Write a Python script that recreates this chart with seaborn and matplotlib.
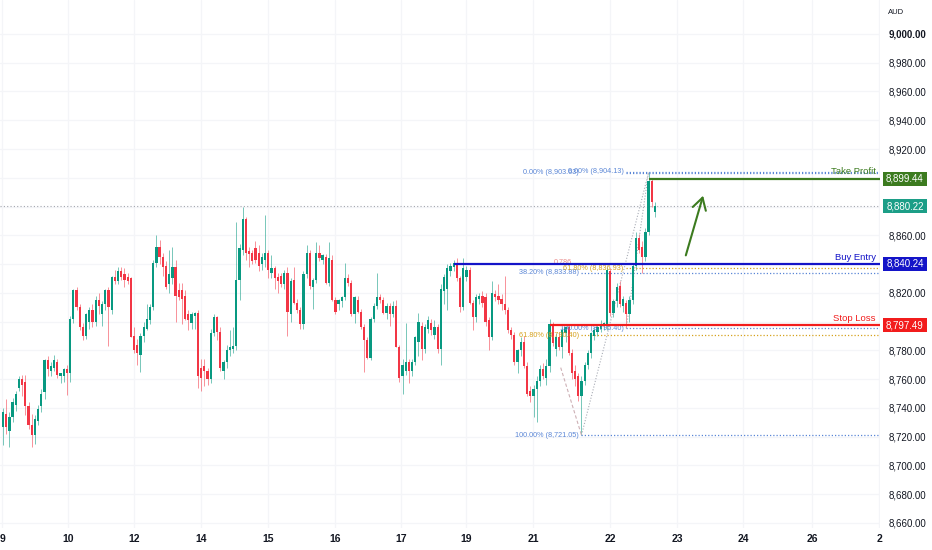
import matplotlib
matplotlib.use("Agg")
import matplotlib.pyplot as plt
from matplotlib import transforms
from matplotlib.patches import Rectangle
import pandas as pd
import seaborn as sns

# hourly candles
opens = [
    8727, 8736, 8724, 8734, 8742, 8754, 8760, 8758, 8741, 8728,
    8721, 8731, 8741, 8751, 8773, 8766, 8768, 8772, 8762, 8762,
    8767, 8764, 8802, 8822, 8810, 8796, 8790, 8800, 8808, 8800,
    8815, 8805, 8812, 8822, 8808, 8831, 8828, 8835, 8833, 8831,
    8830, 8790, 8784, 8777, 8790, 8795, 8801, 8810, 8841, 8852,
    8845, 8839, 8826, 8830, 8838, 8822, 8822, 8818, 8805, 8799,
    8804, 8806, 8768, 8769, 8766, 8760, 8792, 8803, 8793, 8766,
    8772, 8780, 8781, 8783, 8829, 8850, 8871, 8849, 8848, 8851,
    8848, 8840, 8843, 8848, 8834, 8837, 8831, 8832, 8826, 8834,
    8805, 8829, 8813, 8808, 8798, 8833, 8848, 8824, 8829, 8848,
    8843, 8845, 8827, 8843, 8815, 8812, 8814, 8817, 8830, 8827,
    8805, 8815, 8807, 8796, 8787, 8775, 8802, 8811, 8817, 8815,
    8806, 8811, 8805, 8811, 8782, 8762, 8766, 8772, 8766, 8772,
    8786, 8797, 8781, 8795, 8799, 8791, 8796, 8781, 8821, 8823,
    8835, 8838, 8840, 8830, 8810, 8831, 8836, 8813, 8803, 8816,
    8818, 8817, 8801, 8789, 8819, 8818, 8816, 8812, 8808, 8794,
    8791, 8772, 8780, 8786, 8769, 8752, 8748, 8753, 8759, 8767,
    8761, 8769, 8798, 8781, 8789, 8782, 8792, 8796, 8778, 8766,
    8762, 8748, 8759, 8770, 8778, 8790, 8793, 8795, 8797, 8797,
    8835, 8806, 8814, 8825, 8811, 8813, 8805, 8815, 8839, 8858,
    8852, 8845, 8862, 8898, 8876,
]
highs = [
    8740, 8746, 8737, 8747, 8752, 8762, 8763, 8763, 8744, 8736,
    8735, 8742, 8753, 8774, 8776, 8772, 8777, 8774, 8764, 8768,
    8770, 8804, 8823, 8824, 8812, 8799, 8806, 8810, 8812, 8818,
    8820, 8814, 8823, 8824, 8832, 8836, 8838, 8838, 8837, 8834,
    8831, 8796, 8788, 8792, 8800, 8812, 8812, 8843, 8860, 8857,
    8848, 8842, 8850, 8852, 8843, 8827, 8827, 8822, 8808, 8807,
    8807, 8808, 8774, 8774, 8768, 8795, 8805, 8804, 8796, 8773,
    8784, 8794, 8796, 8869, 8854, 8880, 8873, 8852, 8850, 8856,
    8853, 8848, 8874, 8850, 8846, 8839, 8834, 8834, 8836, 8838,
    8830, 8838, 8816, 8810, 8835, 8853, 8850, 8830, 8855, 8853,
    8847, 8847, 8855, 8846, 8817, 8816, 8818, 8841, 8833, 8829,
    8818, 8818, 8809, 8798, 8789, 8803, 8813, 8834, 8819, 8817,
    8813, 8813, 8814, 8815, 8784, 8774, 8799, 8774, 8774, 8790,
    8806, 8800, 8798, 8804, 8802, 8801, 8798, 8826, 8833, 8840,
    8841, 8843, 8844, 8832, 8844, 8839, 8838, 8815, 8819, 8820,
    8821, 8820, 8803, 8828, 8822, 8826, 8819, 8832, 8810, 8796,
    8793, 8781, 8789, 8790, 8772, 8755, 8756, 8762, 8770, 8771,
    8774, 8802, 8800, 8792, 8793, 8796, 8797, 8798, 8781, 8770,
    8764, 8762, 8772, 8780, 8793, 8796, 8798, 8801, 8800, 8838,
    8837, 8816, 8827, 8828, 8818, 8815, 8818, 8840, 8862, 8861,
    8856, 8865, 8904.13, 8899, 8883,
]
lows = [
    8714, 8722, 8713, 8730, 8738, 8752, 8748, 8735, 8725, 8713,
    8715, 8728, 8737, 8746, 8762, 8762, 8766, 8761, 8757, 8758,
    8749, 8758, 8799, 8808, 8794, 8787, 8788, 8795, 8796, 8797,
    8805, 8797, 8808, 8783, 8805, 8826, 8826, 8829, 8824, 8826,
    8789, 8778, 8770, 8765, 8786, 8794, 8798, 8808, 8838, 8840,
    8832, 8823, 8820, 8826, 8800, 8815, 8798, 8801, 8794, 8795,
    8795, 8754, 8752, 8755, 8756, 8757, 8790, 8787, 8766, 8760,
    8768, 8776, 8778, 8780, 8815, 8846, 8843, 8838, 8840, 8841,
    8835, 8836, 8838, 8830, 8830, 8823, 8820, 8824, 8823, 8790,
    8800, 8812, 8806, 8795, 8795, 8830, 8823, 8809, 8827, 8842,
    8840, 8826, 8825, 8814, 8805, 8808, 8810, 8815, 8825, 8804,
    8799, 8806, 8795, 8765, 8774, 8773, 8800, 8809, 8813, 8805,
    8802, 8797, 8803, 8782, 8758, 8750, 8763, 8757, 8762, 8770,
    8776, 8773, 8778, 8792, 8791, 8788, 8778, 8770, 8812, 8808,
    8832, 8835, 8828, 8807, 8808, 8828, 8812, 8794, 8800, 8812,
    8810, 8797, 8780, 8787, 8814, 8812, 8808, 8805, 8792, 8788,
    8770, 8764, 8776, 8768, 8748, 8744, 8734, 8730, 8755, 8760,
    8756, 8765, 8783, 8776, 8780, 8775, 8786, 8777, 8760, 8755,
    8745, 8721.05, 8756, 8767, 8775, 8787, 8790, 8793, 8794, 8794,
    8804, 8803, 8810, 8810, 8807, 8795.40, 8800, 8812, 8836, 8848,
    8834, 8842, 8860, 8880, 8873,
]
closes = [
    8737, 8727, 8734, 8744, 8750, 8760, 8756, 8741, 8728, 8721,
    8732, 8739, 8750, 8773, 8767, 8769, 8773, 8763, 8764, 8767,
    8764, 8802, 8822, 8810, 8796, 8790, 8805, 8808, 8800, 8815,
    8811, 8812, 8822, 8810, 8831, 8828, 8835, 8831, 8829, 8828,
    8789, 8780, 8778, 8790, 8796, 8802, 8810, 8841, 8852, 8845,
    8838, 8824, 8833, 8838, 8818, 8817, 8816, 8802, 8801, 8805,
    8806, 8762, 8761, 8766, 8760, 8792, 8803, 8793, 8768, 8772,
    8780, 8782, 8783, 8829, 8851, 8871, 8848, 8847, 8842, 8843,
    8839, 8845, 8848, 8836, 8837, 8830, 8828, 8826, 8834, 8807,
    8828, 8813, 8808, 8798, 8833, 8848, 8825, 8829, 8848, 8844,
    8846, 8827, 8844, 8815, 8807, 8815, 8817, 8830, 8827, 8805,
    8817, 8807, 8796, 8787, 8775, 8802, 8811, 8817, 8815, 8806,
    8811, 8805, 8811, 8782, 8761, 8770, 8772, 8766, 8772, 8789,
    8800, 8781, 8796, 8801, 8794, 8796, 8781, 8823, 8831, 8837,
    8839, 8841, 8830, 8810, 8837, 8836, 8813, 8803, 8817, 8818,
    8813, 8800, 8789, 8820, 8817, 8815, 8812, 8808, 8794, 8791,
    8772, 8780, 8786, 8769, 8750, 8748, 8753, 8759, 8767, 8762,
    8769, 8798, 8785, 8789, 8782, 8794, 8796, 8778, 8764, 8760,
    8748, 8759, 8770, 8778, 8792, 8794, 8796, 8798, 8799, 8836,
    8806, 8814, 8824, 8812, 8816, 8805, 8815, 8839, 8858, 8850,
    8845, 8862, 8898, 8883, 8880.22,
]

day_labels = ["9", "10", "12", "14", "15", "16", "17", "19", "21", "22", "23", "24", "26", "2"]
day_pos = [-0.3, 20.3, 41, 62, 82.9, 103.9, 124.5, 144.9, 165.8, 190, 210.9, 231.6, 253.1, 274.1]

take_profit = 8899.44
buy_entry = 8840.24
stop_loss = 8797.49
last_price = 8880.22

# two fib retracements: (pct, price)
fib1_levels = [(0.0, 8903.63), (38.2, 8833.88), (61.8, 8790.40), (100.0, 8721.05)]
fib2_levels = [(0.0, 8904.13), (61.8, 8836.93), (100.0, 8795.40)]
fib1_start, fib1_end = 181, 202
fib2_start, fib2_end = 195, 202

UP, DOWN = "#089981", "#f23645"
FIB_BLUE, FIB_GOLD = "#5a86d6", "#d6a21e"
TP_COL, BUY_COL, SL_COL, LAST_COL = "#3c7b1f", "#1414c8", "#f21c1c", "#1c9e87"

sns.set_theme(style="white")
plt.rcParams["font.family"] = ["Liberation Sans", "DejaVu Sans"]

df = pd.DataFrame({"o": opens, "h": highs, "l": lows, "c": closes})
df["i"] = range(len(df))
df["up"] = df["c"] >= df["o"]
df["body_lo"] = df[["o", "c"]].min(axis=1)
df["body_h"] = (df["c"] - df["o"]).abs().clip(lower=0.7)
df["col"] = df["up"].map({True: UP, False: DOWN})

fig = plt.figure(figsize=(9.32, 5.5), dpi=100)
ax = fig.add_axes([0, 22 / 550, 880 / 932, 528 / 550])
xmin, xmax = -0.94, 274.4
ax.set_xlim(xmin, xmax)
ax.set_ylim(8656.5, 9023.6)

ax.grid(True, color="#f4f5f8", lw=0.9)
ax.set_axisbelow(True)
for s in ax.spines.values():
    s.set_visible(False)

# candles
ax.vlines(df["i"], df["l"], df["h"], colors=df["col"], lw=0.7, alpha=0.55, zorder=2)
ax.bar(df["i"], df["body_h"], bottom=df["body_lo"], width=0.7, color=df["col"], lw=0, zorder=3)

# last price line
ax.axhline(last_price, color="#a3a6ae", ls=(0, (1, 2)), lw=0.8, zorder=1)

# fib retracements
dot = (0, (1, 1.6))
for pct, price in fib1_levels:
    col = FIB_GOLD if pct == 61.8 else FIB_BLUE
    start = fib2_start if pct == 0.0 else fib1_start
    ax.hlines(price, start, xmax, colors=col, ls=dot, lw=0.9, zorder=2)
    ax.annotate(f"{pct:.2f}% ({price:,.2f})", xy=(fib1_start, price), xytext=(-2, 0),
                textcoords="offset points", ha="right", va="center", fontsize=5.2, color=col)
for pct, price in fib2_levels:
    col = FIB_GOLD if pct == 61.8 else FIB_BLUE
    ax.hlines(price, fib2_start, xmax, colors=col, ls=dot, lw=0.9, zorder=2)
    ax.annotate(f"{pct:.2f}% ({price:,.2f})", xy=(fib2_start, price), xytext=(-2, 0),
                textcoords="offset points", ha="right", va="center", fontsize=5.2, color=col)
ax.text(178, 8841, "0.786", fontsize=5.2, color="#e98a8a", ha="right", va="center", zorder=1)

sns.lineplot(x=[fib1_start, fib1_end], y=[fib1_levels[-1][1], fib1_levels[0][1]], ax=ax,
             color="#a9adb6", lw=0.8, linestyle=(0, (1, 1.6)))
sns.lineplot(x=[fib2_start, fib2_end], y=[fib2_levels[-1][1], fib2_levels[0][1]], ax=ax,
             color="#a9adb6", lw=0.8, linestyle=(0, (1, 1.6)))
ax.plot([174.5, fib1_start], [8768, fib1_levels[-1][1]], color="#cdb0b5", lw=0.8, ls=(0, (3, 2)))

# trade levels
for price, start, col, name in [(take_profit, 202, TP_COL, "Take Profit"),
                                (buy_entry, 141, BUY_COL, "Buy Entry"),
                                (stop_loss, 171, SL_COL, "Stop Loss")]:
    ax.hlines(price, start, xmax, colors=col, lw=1.6, zorder=4)
    ax.annotate(name, xy=(xmax, price), xytext=(-3, 1.5), textcoords="offset points",
                ha="right", va="bottom", fontsize=6.8, color=col)

ax.annotate("", xy=(219.3, 8889.4), xytext=(213.4, 8844.2),
            arrowprops=dict(arrowstyle="->,head_length=0.6,head_width=0.35", color=TP_COL,
                            lw=1.5, mutation_scale=14))

# price scale: ticks hidden behind the price boxes are left blank
box_prices = [take_profit, last_price, buy_entry, stop_loss]
price_ticks = list(range(8660, 9001, 20))
tick_text = []
for t in price_ticks:
    hidden = any(abs(t - p) < 3 for p in box_prices)
    tick_text.append("" if hidden else f"{t:,.2f}")
ax.yaxis.tick_right()
ax.set_yticks(price_ticks, labels=tick_text)
ax.tick_params(axis="y", length=0, pad=6, labelsize=7, labelcolor="#131722")
for lab in ax.get_yticklabels():
    if lab.get_text() == "9,000.00":
        lab.set_fontweight("bold")
ax.set_xticks(day_pos, labels=day_labels)
ax.tick_params(axis="x", length=0, pad=4, labelsize=7.5, labelcolor="#131722")
for lab in ax.get_xticklabels():
    lab.set_fontweight("bold")

# price boxes on the scale
trans = transforms.blended_transform_factory(ax.transAxes, ax.transData)
for price, col in zip(box_prices, [TP_COL, LAST_COL, BUY_COL, SL_COL]):
    ax.add_patch(Rectangle((1.0034, price - 4.9), 0.05, 9.8, transform=trans,
                           fc=col, ec="none", clip_on=False, zorder=5))
    ax.text(1.0034 + 0.025, price, f"{price:,.2f}", transform=trans, ha="center", va="center",
            color="white", fontsize=7, clip_on=False, zorder=6)

ax.text(1.009, 0.977, "AUD", transform=ax.transAxes, fontsize=5.5, color="#131722",
        ha="left", va="center", clip_on=False)

fig.savefig("out.png", dpi=100, facecolor="white")
